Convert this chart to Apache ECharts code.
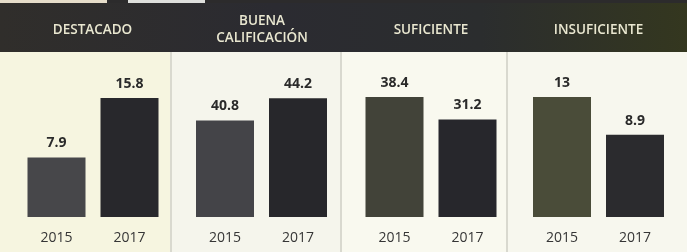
<!DOCTYPE html>
<html>
<head>
<meta charset="utf-8">
<script src="https://cdn.jsdelivr.net/npm/echarts@6/dist/echarts.min.js"></script>
<style>
html,body{margin:0;padding:0;background:#f7f6ea;}
#c{width:687px;height:252px;}
</style>
</head>
<body>
<div id="c"></div>
<script>
// Data
var panelTitles = ['DESTACADO', 'BUENA\nCALIFICACIÓN', 'SUFICIENTE', 'INSUFICIENTE'];
var years = ['2015', '2017'];
var destacado = [7.9, 15.8];
var buena = [40.8, 44.2];
var suficiente = [38.4, 31.2];
var insuficiente = [13, 8.9];

var panelValues = [destacado, buena, suficiente, insuficiente];
// per-panel scale (each panel drawn on its own independent scale, as in the original)
var axisMin = [0, 26, 0, 0];
var axisMax = [15.93, 44.4, 38.4, 13];

var chart = echarts.init(document.getElementById('c'), null, {renderer: 'canvas'});

var lefts = [20, 188.5, 358, 525.5];
var gridW = 146;
var c2015 = ['#47474a', '#444448', '#424339', '#4a4c39'];
var c2017 = ['#28282c', '#27272b', '#27272c', '#2b2b2e'];
var bodyCols = ['#f6f5e0', '#f5f5ec', '#f9f9ef', '#f7f7ee'];
var panelX = [0, 171, 341, 507, 687];

var grids = [], xAxes = [], yAxes = [], series = [], titles = [], graphics = [];

// panel bodies
for (var i = 0; i < 4; i++) {
  graphics.push({type: 'rect', z: -10, shape: {x: panelX[i], y: 52, width: panelX[i+1] - panelX[i], height: 200},
    style: {fill: bodyCols[i]}});
}
// header band
graphics.push({type: 'rect', z: -9, shape: {x: 0, y: 3, width: 687, height: 49},
  style: {fill: new echarts.graphic.LinearGradient(0, 0, 1, 0, [
    {offset: 0, color: '#302e2b'}, {offset: 0.4, color: '#2b2b31'},
    {offset: 0.7, color: '#2b2d2e'}, {offset: 1, color: '#34371f'}])}});
graphics.push({type: 'rect', z: -9, shape: {x: 0, y: 0, width: 687, height: 3}, style: {fill: '#2c2b2c'}});
graphics.push({type: 'rect', z: -8, shape: {x: 0, y: 0, width: 107, height: 3}, style: {fill: '#e6ddca'}});
graphics.push({type: 'rect', z: -8, shape: {x: 128, y: 0, width: 77, height: 3}, style: {fill: '#dedfdc'}});
// separators
[171, 341, 507].forEach(function (x) {
  graphics.push({type: 'line', z: -7, shape: {x1: x, y1: 52, x2: x, y2: 252},
    style: {stroke: '#d9d9cf', lineWidth: 2}});
});

var centers = [92.5, 262, 431, 598.5];
for (var k = 0; k < 4; k++) {
  titles.push({
    text: panelTitles[k],
    left: centers[k], top: k === 1 ? 12 : 21,
    textAlign: 'center',
    padding: 0,
    textStyle: {color: '#e9e7d0', fontSize: 13.5, fontWeight: 600, fontFamily: 'Open Sans', lineHeight: 17.5}
  });
  grids.push({left: lefts[k], width: gridW, top: 97, bottom: 35});
  xAxes.push({type: 'category', gridIndex: k, data: years,
    axisLine: {show: false}, axisTick: {show: false},
    axisLabel: {color: '#363636', fontSize: 14, fontFamily: 'Open Sans', margin: 14}});
  yAxes.push({type: 'value', gridIndex: k, min: axisMin[k], max: axisMax[k], show: false,
    splitLine: {show: false}});
  series.push({
    type: 'bar', xAxisIndex: k, yAxisIndex: k, barWidth: 58,
    data: panelValues[k].map(function (v, j) {
      return {value: v, itemStyle: {color: j === 0 ? c2015[k] : c2017[k]}};
    }),
    label: {show: true, position: 'top', distance: 7, color: '#2a2a2a', fontSize: 14,
      fontWeight: 'bold', fontFamily: 'Open Sans'}
  });
}

chart.setOption({
  backgroundColor: 'transparent',
  animation: false,
  title: titles,
  grid: grids,
  xAxis: xAxes,
  yAxis: yAxes,
  series: series,
  graphic: graphics
});
</script>
</body>
</html>
